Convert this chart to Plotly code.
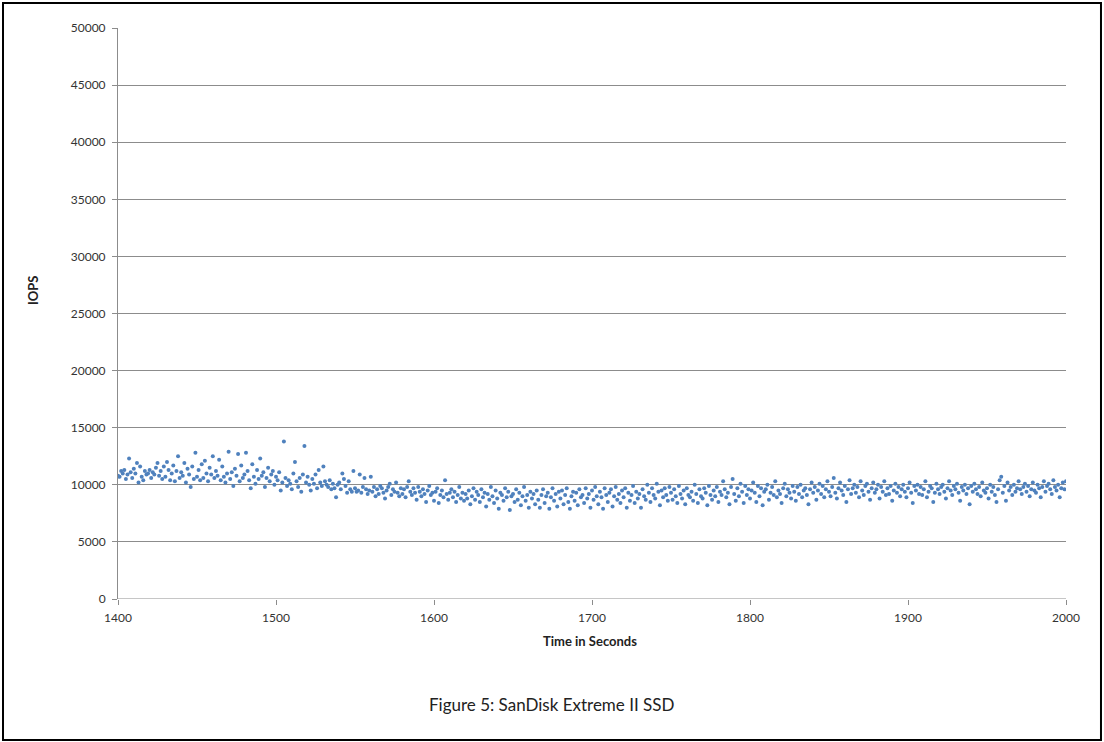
import plotly.graph_objects as go

# Sampling times (one reading per second)
seconds = list(range(1400, 2001))

# IOPS measured each second, grouped by 10-second blocks
iops = [
    10800, 10700, 11200, 11000, 11300, 10500, 10900, 12300, 11100, 10600,
    11400, 11000, 11900, 10200, 11600, 10700, 10400, 11200, 10900, 11000,
    11300, 10600, 11100, 10900, 11500, 11900, 10800, 11200, 10500, 11600,
    10700, 12000, 11300, 10400, 11000, 11700, 10300, 11200, 12500, 10600,
    11100, 10800, 11900, 10200, 11400, 10900, 9800, 11600, 10500, 12800,
    10700, 11300, 10400, 11800, 10600, 12100, 11000, 10300, 11500, 10900,
    12500, 10600, 11200, 10800, 12200, 10400, 11600, 10700, 10200, 11000,
    12900, 10500, 11100, 9900, 11400, 10800, 12700, 10300, 11700, 10600,
    10900, 12800, 11200, 10400, 9700, 11800, 10700, 10100, 11300, 10500,
    12300, 10800, 11100, 9800, 10600, 11500, 10300, 10900, 11200, 10000,
    10700, 10400, 11100, 9500, 10200, 13800, 10600, 9900, 10400, 10100,
    9600, 11000, 12000, 10300, 9800, 10600, 9400, 10900, 13400, 10200,
    10700, 10000, 9500, 10500, 10100, 10900, 9700, 11300, 10200, 9900,
    11600, 10300, 10000, 9800, 10400, 9600, 10100, 9700, 8900, 10000,
    10200, 9600, 11000, 10500, 9900, 9300, 10300, 9600, 9400, 11200,
    9700, 9400, 9500, 10900, 9300, 9800, 10600, 9600, 9200, 9500,
    10700, 9400, 9800, 9000, 9600, 9200, 9900, 9700, 9300, 8800,
    9500, 9800, 10100, 9100, 9600, 9400, 10200, 9300, 9000, 9700,
    9200, 9600, 8900, 9800, 10300, 9400, 9100, 9700, 9300, 8700,
    9800, 9400, 9000, 9600, 9200, 8500, 9500, 9900, 9100, 9300,
    8600, 9400, 9700, 8400, 9100, 9500, 8900, 10400, 9200, 8700,
    9300, 9600, 8900, 9400, 8500, 9100, 9800, 8800, 9300, 8600,
    9200, 8800, 9500, 8300, 9000, 9700, 8700, 9400, 9100, 8500,
    9600, 8900, 9300, 8100, 9200, 8700, 9800, 9000, 8400, 9500,
    8800, 7900, 9300, 9100, 8600, 9700, 8900, 9400, 7800, 9000,
    9200, 8500, 9600, 8700, 9300, 8200, 9000, 9800, 8600, 9100,
    8000, 9400, 8800, 9200, 8300, 9500, 8700, 8000, 9100, 9600,
    8400, 9000, 9300, 7900, 8900, 9700, 8600, 9200, 8100, 9400,
    8800, 9500, 8300, 9100, 9700, 8500, 7900, 9000, 9400, 8600,
    9300, 8200, 9600, 8900, 9100, 8400, 9700, 8800, 9200, 8000,
    9500, 8700, 9800, 9000, 8300, 9400, 8900, 7900, 9700, 9100,
    8500, 9300, 9600, 8100, 9000, 9800, 8700, 9200, 8400, 9500,
    8900, 9700, 8000, 9300, 8600, 9100, 9900, 8400, 9400, 8800,
    9200, 8000, 9600, 9000, 8700, 10000, 9300, 8500, 9700, 9100,
    8800, 10100, 9400, 8200, 9500, 8900, 9700, 9100, 8600, 9800,
    9300, 8700, 9600, 9000, 8400, 9900, 9200, 8800, 9500, 8300,
    9700, 9100, 8900, 9400, 8600, 10000, 9200, 8400, 9600, 9000,
    8800, 9700, 9300, 8200, 9900, 9100, 8700, 9500, 9000, 9800,
    8500, 9400, 9100, 10300, 9600, 8900, 9300, 8300, 9800, 10500,
    9200, 8600, 9700, 9000, 10100, 9400, 8400, 9900, 9100, 9600,
    8800, 9500, 10200, 9300, 8500, 9900, 9000, 9700, 8200, 9400,
    9600, 10000, 8700, 9300, 9800, 9100, 10300, 8900, 9500, 9200,
    8400, 9700, 10100, 9000, 9600, 9300, 8800, 9900, 9400, 8600,
    9800, 9200, 10000, 8900, 9500, 9700, 9100, 8300, 9600, 10200,
    9300, 9800, 8700, 9500, 10100, 9200, 9900, 8900, 9600, 10300,
    9400, 9000, 9800, 10600, 9300, 8800, 9700, 10200, 9500, 9100,
    9900, 8500, 9600, 10400, 9200, 9700, 10000, 9300, 9800, 8900,
    10300, 9500, 9100, 9900, 10100, 9400, 8700, 9700, 10200, 9300,
    9600, 10000, 8800, 9800, 9400, 10300, 9100, 9700, 9200, 9900,
    8600, 9500, 10100, 9300, 9800, 9000, 9600, 10000, 9400, 8900,
    9700, 10200, 9300, 8400, 9900, 9500, 10000, 9200, 9800, 9100,
    9600, 10300, 8900, 9400, 9900, 9700, 8500, 9300, 10100, 9600,
    9200, 9800, 10000, 9400, 8800, 9700, 10300, 9500, 9100, 9900,
    9600, 10100, 9300, 8600, 9800, 9500, 10000, 9200, 9700, 8300,
    9900, 9400, 10100, 9600, 9200, 9800, 9000, 10200, 9500, 9300,
    9700, 8800, 10000, 9400, 9800, 9100, 8500, 9600, 10400, 10700,
    9300, 9900, 8600, 10200, 9500, 9800, 9100, 10000, 9400, 9700,
    10300, 9600, 9200, 9800, 10100, 9400, 9900, 9000, 9600, 10200,
    9500, 9300, 10000, 9700, 8900, 9800, 10300, 9400, 9900, 10100,
    9600, 9200, 10400, 9800, 9500, 10000, 8900, 9700, 10200, 9600,
    10300,
]

x_ticks = [1400, 1500, 1600, 1700, 1800, 1900, 2000]
y_ticks = [0, 5000, 10000, 15000, 20000, 25000, 30000, 35000, 40000, 45000, 50000]
y_tick_labels = [str(v) for v in y_ticks]
x_tick_labels = [str(v) for v in x_ticks]

FONT = "Lato, 'Open Sans', sans-serif"
GRID = "#8c8c8c"

fig = go.Figure(
    go.Scatter(
        x=seconds,
        y=iops,
        mode="markers",
        marker=dict(color="#4f81bd", size=4, line=dict(width=0)),
        hoverinfo="x+y",
    )
)

fig.update_layout(
    width=1104,
    height=742,
    margin=dict(l=118, r=38, t=28, b=143),
    paper_bgcolor="white",
    plot_bgcolor="white",
    showlegend=False,
    font=dict(family=FONT, size=12, color="#333333"),
    xaxis=dict(
        range=[1400, 2000],
        tickvals=x_ticks,
        ticktext=x_tick_labels,
        ticks="outside",
        ticklen=5,
        tickcolor=GRID,
        showgrid=False,
        zeroline=False,
        showline=False,
        tickfont=dict(size=12, color="#333333"),
        ticklabelstandoff=3,
    ),
    yaxis=dict(
        range=[0, 50000],
        tickvals=y_ticks,
        ticktext=y_tick_labels,
        ticks="outside",
        ticklen=5,
        tickcolor=GRID,
        showgrid=True,
        gridcolor=GRID,
        gridwidth=1,
        zeroline=False,
        showline=True,
        linecolor=GRID,
        linewidth=1,
        tickfont=dict(size=12, color="#333333"),
        ticklabelstandoff=4,
    ),
    annotations=[
        dict(
            text="<b>Time in Seconds</b>",
            xref="paper", yref="paper",
            x=0.498, y=-0.0736,
            xanchor="center", yanchor="middle",
            showarrow=False,
            font=dict(family=FONT, size=13, color="#222222"),
        ),
        dict(
            text="<b>IOPS</b>",
            xref="paper", yref="paper",
            x=-0.0897, y=0.541,
            xanchor="center", yanchor="middle",
            textangle=-90,
            showarrow=False,
            font=dict(family=FONT, size=13, color="#222222"),
        ),
        dict(
            text="Figure 5: SanDisk Extreme II SSD",
            xref="paper", yref="paper",
            x=0.4568, y=-0.1856,
            xanchor="center", yanchor="middle",
            showarrow=False,
            font=dict(family=FONT, size=17, color="#222222"),
        ),
    ],
    shapes=[
        # x-axis baseline at zero
        dict(type="line", xref="paper", yref="y", x0=0, x1=1, y0=0, y1=0,
             line=dict(color=GRID, width=1), layer="below"),
        # outer frame around the figure
        dict(type="rect", xref="paper", yref="paper",
             x0=-0.1213, x1=1.0369, y0=-0.2469, y1=1.0438,
             line=dict(color="black", width=2), fillcolor="rgba(0,0,0,0)"),
    ],
)

fig.write_html("out.html")
